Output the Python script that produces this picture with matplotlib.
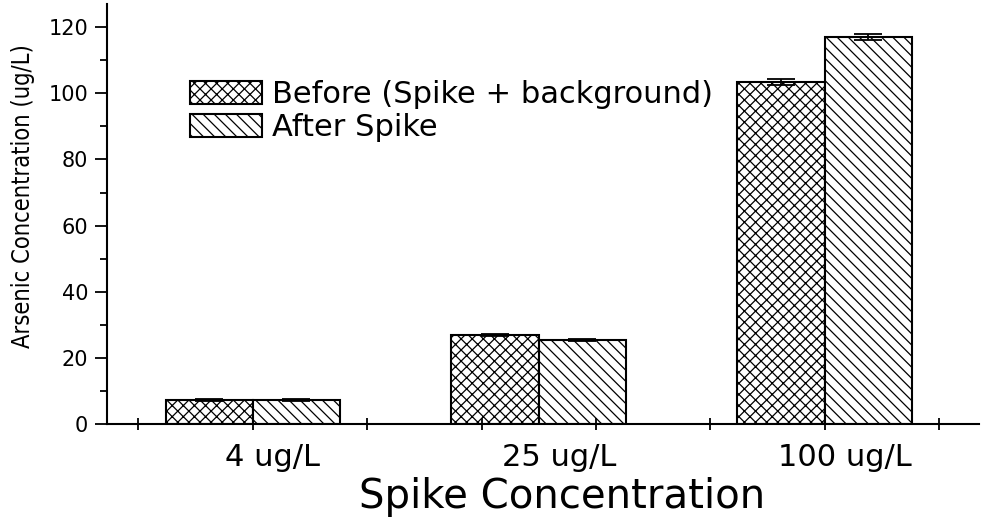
import matplotlib
matplotlib.use("Agg")
import matplotlib.pyplot as plt
import numpy as np
from matplotlib.ticker import MultipleLocator, FixedLocator, NullFormatter

categories = ["4 ug/L", "25 ug/L", "100 ug/L"]
before_vals = [7.2, 26.8, 103.4]
before_err = [0.3, 0.3, 1.0]
after_vals = [7.1, 25.4, 117.0]
after_err = [0.3, 0.2, 1.0]
series_labels = ["Before (Spike + background)", "After Spike"]

plt.rcParams['hatch.linewidth'] = 0.9
plt.rcParams['font.family'] = ['DejaVu Sans']

fig = plt.figure(figsize=(9.81, 5.17), dpi=100)
ax = fig.add_axes([0.109, 0.180, 0.889, 0.812])

x = np.arange(1, len(categories) + 1)
w = 0.305
ekw = dict(elinewidth=1.3, capthick=1.3, ecolor='black')
b1 = ax.bar(x - w / 2, before_vals, w, yerr=before_err, capsize=10,
            facecolor='white', edgecolor='black', linewidth=1.5,
            hatch='xxx', error_kw=ekw, label=series_labels[0])
b2 = ax.bar(x + w / 2, after_vals, w, yerr=after_err, capsize=10,
            facecolor='white', edgecolor='black', linewidth=1.5,
            hatch='\\\\\\', error_kw=ekw, label=series_labels[1])

ax.set_xlim(0.49, 3.54)
ax.set_ylim(0, 127)

for s in ['top', 'right']:
    ax.spines[s].set_visible(False)
for s in ['left', 'bottom']:
    ax.spines[s].set_linewidth(1.5)

ax.yaxis.set_major_locator(MultipleLocator(20))
ax.yaxis.set_minor_locator(MultipleLocator(10))
ax.tick_params(axis='y', which='major', direction='out', length=8.5, width=1.3,
               labelsize=15, pad=5)
ax.tick_params(axis='y', which='minor', direction='out', length=5, width=1.3)

# x: tick marks between/at groups, labels slightly right of group centers
label_shift = 0.07
ax.xaxis.remove_overlapping_locs = False
ax.xaxis.set_major_locator(FixedLocator(np.arange(0.6, 3.5, 0.4)))
ax.xaxis.set_major_formatter(NullFormatter())
ax.xaxis.set_minor_locator(FixedLocator(x + label_shift))
ax.set_xticklabels(categories, minor=True)
ax.tick_params(axis='x', which='major', direction='inout', length=8, width=1.3)
ax.tick_params(axis='x', which='minor', direction='out', length=0,
               labelsize=22, pad=14)

ax.set_xlabel("Spike Concentration", fontsize=29, va='baseline')
ax.xaxis.set_label_coords((562 - 107) / 872, -84 / 419.8)
fig.text(0.023, 0.621, "Arsenic Concentration (ug/L)", rotation=90,
         ha='center', va='center', fontsize=17, fontstretch='condensed',
         family=['Liberation Sans Narrow', 'DejaVu Sans'])

leg = ax.legend(loc='upper left', bbox_to_anchor=(190 / 981, 1 - 80 / 517),
                bbox_transform=fig.transFigure, frameon=False, fontsize=22,
                handlelength=2.35, handleheight=0.78, handletextpad=0.35,
                labelspacing=0.12, borderpad=0, borderaxespad=0)
for h in leg.legend_handles:
    h.set_linewidth(1.5)

fig.savefig("out.png", dpi=100)
